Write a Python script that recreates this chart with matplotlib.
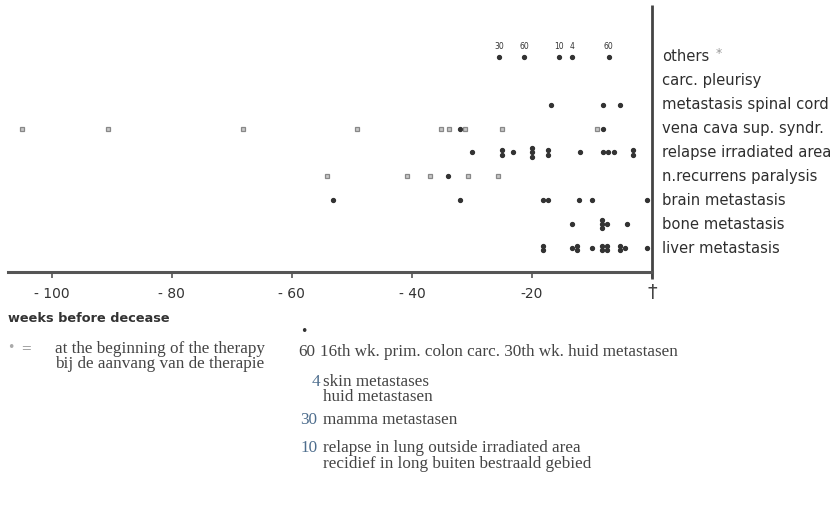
import numpy as np
import matplotlib.pyplot as plt

# rows from bottom to top
rows = ['liver metastasis', 'bone metastasis', 'brain metastasis',
        'n.recurrens paralysis', 'relapse irradiated area',
        'vena cava sup. syndr.', 'metastasis spinal cord',
        'carc. pleurisy', 'others']

# weeks before decease / number of cases at that week / 1 = at beginning of therapy
liver_wk = [-18.2, -13.3, -12.5, -10.0, -8.3, -7.5, -5.3, -4.5, -0.8]
liver_n = [2, 1, 2, 1, 2, 2, 2, 1, 1]
liver_start = [0, 0, 0, 0, 0, 0, 0, 0, 0]

bone_wk = [-13.3, -8.3, -7.5, -4.2]
bone_n = [1, 3, 1, 1]
bone_start = [0, 0, 0, 0]

brain_wk = [-53.2, -32.0, -18.2, -17.3, -12.2, -10.0, -0.8]
brain_n = [1, 1, 1, 1, 1, 1, 1]
brain_start = [0, 0, 0, 0, 0, 0, 0]

nrec_wk = [-54.2, -40.8, -37.0, -34.0, -30.7, -25.7]
nrec_n = [1, 1, 1, 1, 1, 1]
nrec_start = [1, 1, 1, 0, 1, 1]

relapse_wk = [-30.0, -25.0, -23.2, -20.0, -17.4, -12.0, -8.2, -7.3, -6.3, -3.2]
relapse_n = [1, 2, 1, 3, 2, 1, 1, 1, 1, 2]
relapse_start = [0, 0, 0, 0, 0, 0, 0, 0, 0, 0]

vena_wk = [-105.0, -90.7, -68.2, -49.2, -35.2, -33.8, -32.0, -31.2, -25.0, -9.2, -8.2]
vena_n = [1, 1, 1, 1, 1, 1, 1, 1, 1, 1, 1]
vena_start = [1, 1, 1, 1, 1, 1, 0, 1, 1, 1, 0]

spinal_wk = [-16.8, -8.2, -5.3]
spinal_n = [1, 1, 1]
spinal_start = [0, 0, 0]

pleur_wk = []
pleur_n = []
pleur_start = []

others_wk = [-25.5, -21.3, -15.5, -13.3, -7.2]
others_n = [1, 1, 1, 1, 1]
others_start = [0, 0, 0, 0, 0]
others_note = ['30', '60', '10', '4', '60']

xticks = [-100, -80, -60, -40, -20, 0]
xticklabels = ['- 100', '- 80', '- 60', '- 40', '-20', '']

W, H = 837, 507
fig = plt.figure(figsize=(W / 100, H / 100), dpi=100)
ax = fig.add_axes([8 / W, 1 - 272 / H, (652 - 8) / W, (272 - 5) / H])

data = [(liver_wk, liver_n, liver_start), (bone_wk, bone_n, bone_start),
        (brain_wk, brain_n, brain_start), (nrec_wk, nrec_n, nrec_start),
        (relapse_wk, relapse_n, relapse_start), (vena_wk, vena_n, vena_start),
        (spinal_wk, spinal_n, spinal_start), (pleur_wk, pleur_n, pleur_start),
        (others_wk, others_n, others_start)]

dark = '#333333'
for i, (wk, nn, st) in enumerate(data):
    for w, n, s in zip(wk, nn, st):
        yy = i + (np.arange(n) - (n - 1) / 2) * 0.18
        if s:
            ax.plot([w] * n, yy, 's', ms=3.0, mfc='#c8c8c8', mec='#888888', mew=0.9)
        else:
            ax.plot([w] * n, yy, 'o', ms=2.8, color=dark, mec=dark)

for w, t in zip(others_wk, others_note):
    ax.text(w, 8 + 0.42, t, fontsize=5.5, ha='center', va='center', color='#333333')

ax.set_xlim(-107.3, 0)
ax.set_ylim(-1, 10.17)
ax.set_yticks([])
ax.set_xticks(xticks)
ax.set_xticklabels(xticklabels, fontsize=10, color='#333333')
ax.tick_params(axis='x', length=4, width=1.2, color='#555555', pad=7)
for s in ['left', 'top', 'right']:
    ax.spines[s].set_visible(False)
ax.spines['bottom'].set_linewidth(2.2)
ax.spines['bottom'].set_color('#555555')
ax.patch.set_alpha(0)

# zero line (day of decease)
ax.plot([0, 0], [-0.025, 1.0], transform=ax.get_xaxis_transform(), color='#444444',
        lw=2.0, clip_on=False, solid_capstyle='butt')
ax.text(0, -0.078, '\u2020', transform=ax.get_xaxis_transform(), ha='center', va='center',
        fontsize=14, color='#444444')

for i, name in enumerate(rows):
    ax.text(1.65, i, name, fontsize=10.6, ha='left', va='center', color='#2e2e2e', clip_on=False)
ax.text(1.65 + 9.0, 8.15, '*', fontsize=9, color='#999999', va='center', clip_on=False)

def fx(px):
    return px / W

def fy(py):
    return 1 - py / H

fig.text(fx(8), fy(318), 'weeks before decease', fontsize=9.3, fontweight='bold',
         color='#333333', va='center')

serif = 'Liberation Serif'
txt = '#444444'
blue = '#4d6d8d'
fs = 12.3
fig.text(fx(7), fy(347), '\u2022', fontsize=9, color='#aaaaaa', va='center')
fig.text(fx(21), fy(349), '=', fontsize=fs, color='#888888', va='center', family=serif)
fig.text(fx(55), fy(349), 'at the beginning of the therapy', fontsize=fs, color=txt,
         va='center', family=serif)
fig.text(fx(55), fy(364), 'bij de aanvang van de therapie', fontsize=fs, color=txt,
         va='center', family=serif)

fig.text(fx(300), fy(331), '\u2022', fontsize=9, color=dark, va='center')
fig.text(fx(298), fy(352), '60', fontsize=fs, color=txt, va='center', family=serif)
fig.text(fx(320), fy(352), '16th wk. prim. colon carc. 30th wk. huid metastasen',
         fontsize=fs, color=txt, va='center', family=serif)
fig.text(fx(312), fy(382), '4', fontsize=fs, color=blue, va='center', family=serif)
fig.text(fx(323), fy(382), 'skin metastases', fontsize=fs, color=txt, va='center', family=serif)
fig.text(fx(323), fy(397), 'huid metastasen', fontsize=fs, color=txt, va='center', family=serif)
fig.text(fx(300), fy(420), '30', fontsize=fs, color=blue, va='center', family=serif)
fig.text(fx(323), fy(420), 'mamma metastasen', fontsize=fs, color=txt, va='center', family=serif)
fig.text(fx(301), fy(448), '10', fontsize=fs, color=blue, va='center', family=serif)
fig.text(fx(323), fy(448), 'relapse in lung outside irradiated area', fontsize=fs, color=txt,
         va='center', family=serif)
fig.text(fx(323), fy(464), 'recidief in long buiten bestraald gebied', fontsize=fs, color=txt,
         va='center', family=serif)

fig.savefig('out.png', dpi=100)
